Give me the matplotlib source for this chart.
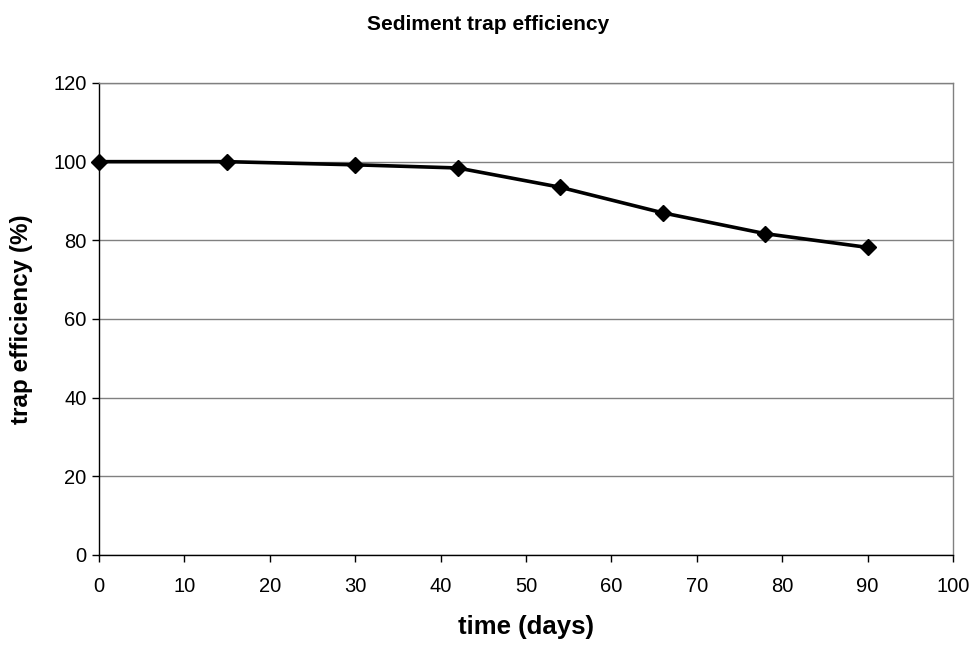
import matplotlib
matplotlib.use("Agg")
import matplotlib.pyplot as plt

time_days = [0, 15, 30, 42, 54, 66, 78, 90]
trap_efficiency = [100, 100, 99.2, 98.4, 93.5, 87.0, 81.7, 78.2]
x_ticks = [0, 10, 20, 30, 40, 50, 60, 70, 80, 90, 100]
y_ticks = [0, 20, 40, 60, 80, 100, 120]

plt.rcParams['font.family'] = ['Liberation Sans', 'DejaVu Sans']

fig = plt.figure(figsize=(9.76, 6.46), dpi=100)
ax = fig.add_axes([99/976, 1-555/646, (953-99)/976, (555-83)/646])

ax.set_xlim(0, 100)
ax.set_ylim(0, 120)
ax.set_xticks(x_ticks)
ax.set_yticks(y_ticks)
ax.yaxis.grid(True, color='#808080', linewidth=1)
ax.set_axisbelow(True)

for s in ['top', 'right']:
    ax.spines[s].set_color('#808080')
    ax.spines[s].set_linewidth(1)
for s in ['left', 'bottom']:
    ax.spines[s].set_color('black')
    ax.spines[s].set_linewidth(1)

ax.tick_params(axis='both', direction='out', length=5, width=1, labelsize=14.5, colors='black')
ax.tick_params(axis='x', pad=11)
ax.tick_params(axis='y', pad=4)

ax.plot(time_days, trap_efficiency, color='black', linewidth=2.6, marker='D',
        markersize=8, markerfacecolor='black', markeredgecolor='black', clip_on=False, zorder=3)

ax.set_xlabel('time (days)', fontsize=18.5, fontweight='bold')
ax.xaxis.set_label_coords(0.5, -(627-555)/(555-83), transform=ax.transAxes)
ax.xaxis.label.set_va('center')
ax.set_ylabel('trap efficiency (%)', fontsize=17.5, fontweight='bold')
ax.yaxis.set_label_coords(-(99-22)/(953-99), 0.5, transform=ax.transAxes)
ax.yaxis.label.set_va('center')
fig.text(0.5, 1-25/646, 'Sediment trap efficiency', ha='center', va='center',
         fontsize=15, fontweight='bold')

fig.savefig('out.png', dpi=100)
